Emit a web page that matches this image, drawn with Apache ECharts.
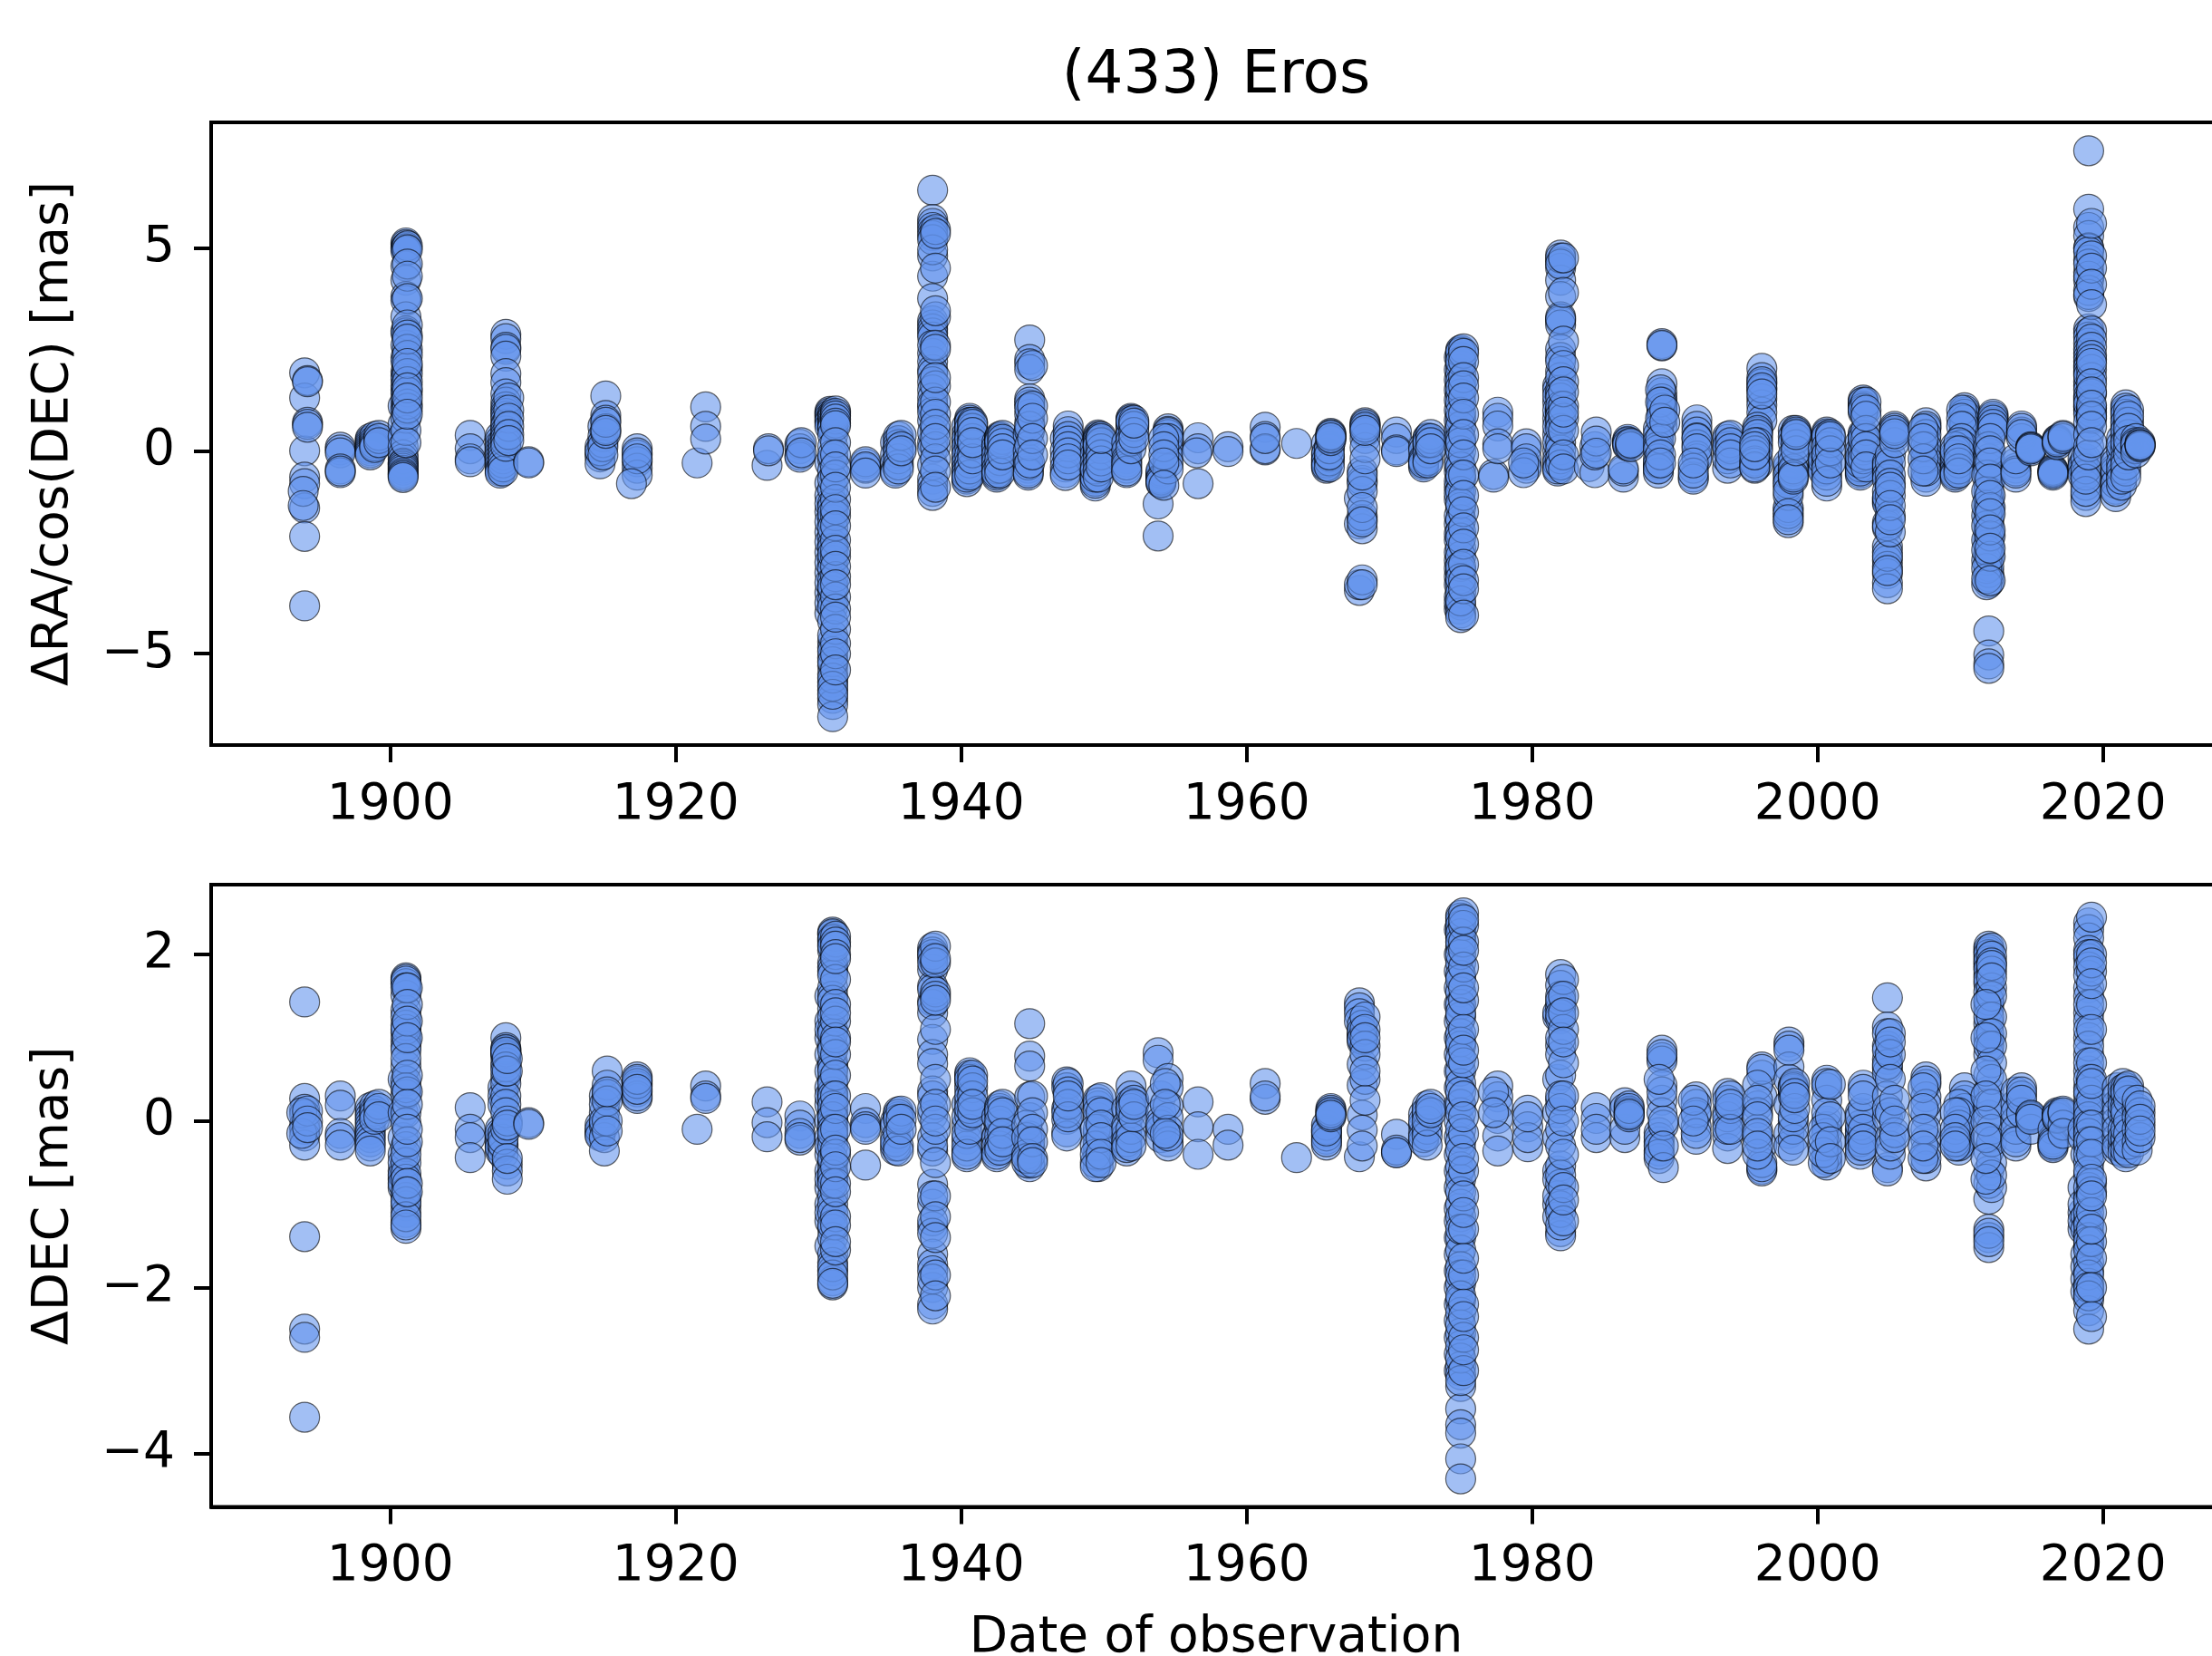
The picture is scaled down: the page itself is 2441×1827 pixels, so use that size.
<!DOCTYPE html>
<html><head><meta charset="utf-8">
<style>html,body{margin:0;padding:0;background:#fff}#c{width:2441px;height:1827px}</style>
<script src="https://cdn.jsdelivr.net/npm/echarts@6/dist/echarts.min.js"></script>
</head><body><div id="c"></div>
<script>
// Each row: observation year, then the residuals read at that year (mas).
const raColumns = [
[1894.0,1.92,1.3,0.0,-0.65,-0.81,-1.41,-2.11,-3.82],[1893.9,-1.0,-1.35],[1894.2,1.73,1.7,0.7,0.65,0.58],
[1896.5,0.09,0.02,-0.05,-0.45,-0.54,-0.5],
[1898.6,0.3,0.25,0.2,0.15,0.1,0.05,0.0,-0.05,-0.1],[1898.9,0.35,0.25,0.18,0.12,0.08],[1899.2,0.38,0.3,0.2],
[1900.9,1.1,0.65,0.35,0.1,-0.1,-0.2,-0.3,-0.33,-0.38,-0.43,-0.48,-0.54,-0.58,-0.62,-0.66],
[1901.1,5.12,5.08,5.02,4.98,4.92,4.55,4.2,3.8,3.7,3.3,2.95,2.9,2.6,2.3,2.2,1.95,1.85,1.75,1.6,1.5,1.4,1.25,1.08,1.0,0.8,0.5,0.2],
[1901.2,5.05,4.95,4.6,4.3,3.75,3.1,2.85,2.5,2.35,2.05,1.9,1.7,1.45,1.15,1.05,2.75,2.15,1.55,1.3,0.9],
[1905.6,0.38,0.05,-0.2,-0.27],
[1907.7,0.35,0.25,0.15,0.05,-0.05,-0.15,-0.25,-0.35,-0.45,-0.5,-0.55],[1907.9,0.2,0.1,0.0,-0.1,-0.2,-0.3,-0.4,-0.5],
[1908.1,2.87,2.76,2.55,2.5,2.33,1.9,1.68,1.4,1.2,1.08,1.0,0.92,0.85,0.76,0.65,0.6,0.49,0.4,0.32,0.22,0.11],[1908.3,1.3,1.0,0.8,0.6,0.4,0.25],
[1909.7,-0.27,-0.3],
[1914.7,0.1,-0.05,-0.15,-0.32,0.0],[1914.9,0.6,0.35,0.2,0.1,-0.1],[1915.1,1.35,0.87,0.75,0.54,0.43,0.7,0.5],
[1917.3,0.05,-0.1,-0.27,-0.43,-0.6,-0.05,-0.2],[1916.9,-0.81],
[1921.5,-0.3],[1922.1,1.08,0.6,0.29],
[1926.4,-0.36],[1926.5,0.05,0.0],
[1928.7,0.16,0.05,-0.11,-0.16],[1928.8,0.2,-0.05],
[1930.8,0.97,0.93,0.88,0.82,0.75,0.7,0.6,-0.3,-0.8,-1.1,-1.5,-2.0,-2.5,-3.0,-3.5,-4.0,-1.3,-1.75,-2.25,-2.75,-3.25,-3.75],
[1931.0,0.9,0.85,0.8,0.72,0.65,0.6,0.55,0.4,0.1,-0.2,-0.5,-0.95,-1.3,-1.4,-1.7,-2.1,-2.3,-2.4,-2.7,-2.9,-3.2,-3.45,-3.7,-3.85,-4.7,-4.85,-5.1,-5.3,-5.5,-5.7,-5.9,-6.1,-6.25,-6.55,-0.1,-0.7,-1.55,-1.9,-2.55,-3.35,-4.2,-4.55,-4.95,-5.2,-5.6,-5.8,-6.0],
[1931.2,0.98,0.92,0.86,0.78,0.68,0.62,0.2,-0.1,-0.6,-1.2,-1.6,-2.2,-2.6,-3.1,-3.6,-3.9,-4.4,-4.75,-5.0,-5.4,-0.4,-0.9,-1.45,-1.85,-2.45,-2.85,-3.3,-4.1],
[1933.3,-0.32,-0.43,-0.27,-0.4,-0.55],
[1935.4,0.2,-0.1,-0.3,-0.5,-0.55],[1935.6,0.35,0.25,0.15,0.05,-0.05,-0.2,-0.35,-0.45],[1935.8,0.38,0.1,0.0],
[1938.0,6.42,5.7,5.6,5.5,5.4,5.3,4.8,4.3,3.75,3.2,3.1,3.0,2.9,2.8,2.4,2.2,2.0,1.9,1.7,1.5,1.3,1.08,0.75,0.2,-0.7,-0.85,-1.0,-1.1,5.2,4.95,2.6,1.15,0.95,0.45,0.05,-0.35],
[1938.2,5.45,5.35,4.5,3.3,2.6,1.6,1.2,0.9,0.5,0.1,-0.2,-0.5,-0.9,3.45,2.5,1.8,0.65,0.3],
[1940.4,0.6,0.4,0.2,0.0,-0.2,-0.35,-0.5,-0.6,-0.7,-0.76,0.3,0.1,-0.1,-0.3,-0.45,-0.55,-0.65],[1940.6,0.8,0.75,0.69,0.6,0.5,0.4,0.24,0.1,-0.1,-0.3,-0.45,-0.6,0.7,0.55,0.3],[1940.8,0.7,0.55,0.3,0.15,-0.05,-0.2,0.65,0.45,0.2],
[1942.5,0.2,0.0,-0.2,-0.35,-0.5,-0.65,-0.6,0.1,-0.1,-0.28,-0.45,-0.55],[1942.7,0.35,0.3,0.25,0.2,0.13,-0.05,-0.24,-0.43,-0.55,0.32,0.27,0.22],[1942.9,0.38,0.28,0.18,0.05,-0.1],
[1944.7,0.4,0.0,-0.2,-0.43,-0.5,-0.6,-0.35,-0.55],[1944.8,2.73,2.25,2.14,2.0,1.28,1.13,0.69,0.9,0.5,0.13,-0.3,1.2,1.05,0.6],[1945.0,2.1,1.1,0.8,0.3,-0.1],
[1947.3,0.3,0.0,-0.2,-0.4,-0.54,-0.61],[1947.5,0.61,0.47,0.35,0.24,0.1,-0.05,-0.2,-0.35],
[1949.4,0.1,-0.1,-0.3,-0.5,-0.7,-0.87,-0.75,-0.8,-0.65,-0.45],[1949.6,0.39,0.35,0.28,0.22,0.15,0.09,0.0,-0.06,-0.2,-0.35,-0.5,-0.65,0.3,0.25,0.18,0.12],[1949.8,0.35,0.2,0.05,-0.1,-0.25,-0.4,0.3],
[1951.6,0.2,0.0,-0.2,-0.28,-0.43,-0.54,-0.35,-0.5],[1951.9,0.8,0.74,0.69,0.6,0.54,0.4,0.24,0.05,0.77,0.72],[1952.1,0.75,0.6,0.45,0.3,0.68],
[1953.8,-1.31,-2.1],[1954.0,-0.65,-0.6,-0.7,-0.75,-0.8,-0.55,-0.5,-0.68,-0.72,-0.78],[1954.5,0.54,0.48,0.4,0.24,0.1,0.02,-0.13,-0.3,-0.45,0.45,0.3],[1954.2,0.3,0.1,-0.1,-0.3,-0.85],
[1956.6,0.32,0.05,-0.81],[1956.5,-0.05],
[1958.7,0.1,-0.02],
[1961.3,0.58,0.35,0.02,0.05,0.3],
[1963.5,0.18],
[1965.6,0.18,-0.05,-0.2,-0.35,-0.43,-0.3,-0.1,-0.25,-0.38],[1965.8,0.1,-0.15,-0.25,-0.4,0.05,-0.1],[1965.9,0.43,0.35,0.3,0.25,0.4,0.38,0.32],
[1967.9,-1.17,-1.8,-3.44,-3.3],[1968.1,-0.5,-0.73,-0.8,-1.0,-1.69,-1.92,-1.6,-1.4,-3.18,-3.3,-0.6,-1.75],[1968.3,0.69,0.62,0.54,0.45,0.3,0.08,-0.2,0.65,0.58,0.5],
[1970.5,0.46,0.3,0.02,-0.02],
[1972.4,0.1,0.0,-0.2,-0.35,-0.4,-0.25,-0.3],[1972.7,0.32,0.25,0.17,0.1,-0.05,-0.24,-0.3,0.3,0.2],[1972.9,0.4,0.3,0.2,0.05],
[1974.9,2.0,1.5,1.0,0.5,0.1,-0.2,-0.5,-0.9,-1.2,-1.8,-2.2,-2.7,-3.1,-3.6,-3.9,2.3,1.75,1.25,0.75,0.3,-0.35,-0.75,-1.05,-1.6,-2.05,-2.5,-2.9,-3.3,-3.75],
[1975.0,2.45,2.3,2.1,1.9,1.7,1.4,1.2,0.8,0.6,0.3,0.0,-0.4,-0.7,-1.0,-1.4,-1.7,-2.0,-2.4,-2.6,-2.95,-3.3,-3.5,-3.8,-4.0,-4.11,2.48,2.42,2.2,1.55,0.95,0.2,-0.6,-1.3,-2.15,-2.85,-3.15,-3.7],
[1975.2,2.51,2.4,2.2,1.8,1.6,1.3,0.9,0.4,-0.1,-0.6,-1.1,-1.5,-1.9,-2.3,-2.8,-3.2,-3.4,-4.05],
[1977.3,-0.58,-0.65],[1977.6,0.95,0.8,0.61,0.17,0.05],
[1979.6,0.17,0.05,-0.35,-0.2,-0.43],[1979.4,-0.54,-0.3],
[1981.8,1.6,1.2,0.8,0.4,0.0,-0.2,-0.4,-0.5,1.5,1.35,1.0,0.6,0.2,-0.3,-0.45],[1982.0,4.82,4.65,4.5,4.2,3.8,3.3,3.2,3.1,2.5,2.3,1.95,1.8,1.5,1.4,1.3,1.0,0.99,0.9,0.69,0.2,0.02,-0.2,-0.35,4.75,4.6,3.25,2.2,1.1,0.85,0.75,0.55],[1982.2,4.75,3.9,2.7,2.1,1.7,1.1,0.8,0.5,-0.1,-0.45,1.45,0.95],
[1984.0,-0.39],[1984.4,-0.54,0.1,-0.1],[1984.5,0.46,0.24,-0.06],
[1986.4,-0.65,-0.5,-0.45],[1986.7,0.24,0.17,0.28,0.12,0.2,0.22,0.15],[1986.9,0.16,0.1,0.19],
[1989.1,2.64,2.58,2.6,1.65,1.43,1.28,1.13,0.99,0.9,0.6,1.2,1.05,0.8],[1988.85,0.54,0.4,0.24,0.1,0.02,-0.2,-0.35,-0.43,-0.55,-0.3,-0.45],[1989.0,1.5,1.2,0.8,0.3,-0.1,-0.3],[1989.3,1.0,0.7],
[1991.55,0.76,0.6,0.46,0.32,0.15,-0.13,-0.2,0.3,0.05],[1991.3,-0.65,-0.43,-0.7,-0.55,-0.3],
[1993.7,0.35,0.15,0.02,-0.43,-0.2,0.28,0.1],[1993.9,0.38,0.2,0.05,-0.3,-0.1],
[1996.1,2.03,1.8,1.65,1.5,1.28,1.13,0.95,0.75,1.7,1.55,1.4],[1995.8,0.58,0.46,0.3,0.1,-0.2,-0.35,0.5,0.4,0.2,0.0],[1995.6,0.2,0.0,-0.25,-0.43,-0.3,-0.4,-0.1,0.1],
[1997.95,-1.62,-1.47,-1.77,-1.4,-0.54,-0.73,-0.88,-1.1,-0.4,-0.3,-0.6,-0.8,-1.0,-1.55,-1.7],[1998.3,0.5,0.35,0.2,-0.1,-0.3,-0.5,-0.7,-0.45,-0.6,-0.65],[1998.5,0.5,0.43,0.3,0.15,0.0,0.46,0.4],
[2000.4,-0.35,-0.45,-0.5,-0.15,0.05,-0.25],[2000.65,0.46,0.39,0.28,-0.06,-0.2,-0.35,-0.87,-0.6,0.42,0.35,0.1,-0.1,-0.45,-0.75],[2000.9,0.4,0.2,0.0,-0.3,0.35],
[2003.0,0.2,0.0,-0.2,-0.35,-0.45,-0.55,-0.6,-0.25,-0.4,-0.5,-0.3,-0.15],[2003.2,1.25,1.18,1.1,0.95,0.43,0.24,0.02,-0.2,1.2,1.05,1.0,0.38,0.3],[2003.4,1.2,1.0,0.5,0.3,0.1,-0.1,-0.4,0.85],
[2004.9,-0.28,-0.5,-0.43,-1.25,-1.2,-1.3,-1.77,-1.9,-2.36,-2.5,-2.7,-2.85,-3.03,-3.25,-3.4,-0.35,-0.6,-0.7,-1.0,-1.15,-1.85,-2.6,-2.95],[2005.1,-0.1,-0.3,-0.6,-0.8,-1.1,-1.6,-2.0,-0.9,-1.35,-1.7],[2005.4,0.6,0.46,0.35,0.2,0.55,0.5,0.42],
[2007.6,0.69,0.55,0.24,-0.06,-0.35,-0.65,-0.75,0.6,0.4,0.1,-0.2,-0.5],[2007.4,0.54,0.1,-0.2,-0.5,0.3],
[2010.3,1.06,0.95,0.84,0.69,0.5,0.24,0.1,1.0,0.9,0.75,0.6],[2010.1,1.0,0.8,0.6,0.3,0.15,0.0],[2009.65,0.1,-0.2,-0.35,-0.5,-0.65,-0.3,-0.45,-0.55,-0.6,-0.1,0.0],[2009.9,0.2,0.0,-0.3,-0.45,-0.55,-0.2],
[2012.3,0.9,0.8,0.7,0.61,0.5,0.85,0.75,0.65,0.55],[2012.0,-0.05,-0.2,-0.43,-0.8,-1.17,-1.2,-1.3,-1.5,-1.77,-1.9,-2.0,-2.36,-2.5,-3.25,-3.1,-3.0,-4.44,-5.03,-5.25,-5.36,0.1,-0.3,-0.6,-1.0,-1.4,-1.65,-2.15,-2.3,-2.65,-2.85],[2011.85,-0.6,-1.0,-1.6,-2.2,-2.7,-2.9,-3.3,-1.35,-1.85,-2.45,-3.15],[2012.1,0.3,0.0,-0.3,-0.7,-1.4,-2.1,-2.6,-3.2,-1.1,-1.55,-1.95,-2.4],
[2013.9,-0.43,-0.65,-0.3,-0.5,-0.55,-0.2],[2014.3,0.61,0.46,0.3,0.55,0.4],[2014.95,0.08,0.05,0.0,0.1,0.06,0.07,0.04],
[2016.5,-0.46,-0.54,-0.5,-0.6,-0.48,-0.52,-0.56],[2016.8,0.28,0.24,0.2,0.15,0.26,0.22],[2017.2,0.38,0.3,0.35],
[2018.6,-0.2,-0.35,-0.5,-0.4,-0.6],[2018.8,-0.2,-1.1,-0.85,-1.25,-0.6,-0.45,-1.0,-0.7],[2019.0,7.39,5.95,5.5,5.3,5.0,4.98,4.7,4.4,4.2,3.8,3.0,2.9,2.8,2.65,2.5,2.4,2.3,2.2,2.1,1.9,1.7,1.6,1.5,1.3,1.2,1.1,1.08,1.0,0.9,4.9,4.6,4.3,3.95,3.85,2.05,1.95,1.85,1.35,1.25,1.15,0.7,0.4,0.1,-0.1],[2019.2,5.6,4.8,4.5,4.1,3.6,2.95,2.75,2.55,2.35,2.0,1.8,1.4,1.05,0.95,0.8,2.25,2.15,1.65,1.45,1.12,0.85,0.6,0.2],
[2020.9,-0.2,-0.43,-0.73,-0.95,-1.13,-0.6,-0.5,-0.8,-1.0,-0.3],[2021.3,0.3,0.0,-0.3,-0.6,-0.85,-0.45,-0.7,0.15],[2021.6,1.13,0.98,0.8,0.6,0.35,0.08,-0.2,-0.5,1.05,0.9,0.7,0.5,0.2,-0.35,-0.65],[2021.8,1.0,0.7,0.4,0.1,-0.1,0.85,0.55,0.25],[2022.3,0.3,0.1,0.05,0.2,0.15,-0.05],[2022.6,0.17,0.12,0.2,0.15,0.1,0.14]
];
const decColumns = [
[1894.0,1.43,0.27,0.14,0.08,-0.05,-0.1,-0.18,-0.29,-1.39,-2.5,-2.6,-3.56],[1893.8,0.1,-0.15],[1894.2,0.12,0.0,-0.08],
[1896.5,0.3,0.19,-0.15,-0.2,-0.29],
[1898.6,0.16,0.1,0.05,0.0,-0.05,-0.1,-0.15,-0.2,-0.25,-0.3,-0.36],[1898.9,0.18,0.12,0.08,0.02],[1899.2,0.2,0.15,0.05],
[1900.9,0.5,0.1,-0.2,-0.4,-0.6,-0.7,-0.8,-0.5,-0.65,-0.75],[1901.1,1.72,1.7,1.65,1.51,1.33,1.25,1.06,0.98,0.9,0.66,0.48,0.32,0.1,-0.02,-0.31,-0.5,-0.63,-0.7,-0.92,-1.02,-1.1,-1.22,-1.29,1.68,1.6,1.15,1.1,0.85,0.75,0.4,-0.4,-0.85,-0.97,-1.15,-1.25],[1901.2,1.6,1.4,1.2,1.0,0.35,-0.25,-0.75,-0.85,0.55,0.2,-0.1],
[1905.6,0.16,-0.1,-0.2,-0.44],
[1907.7,-0.1,-0.2,-0.3,-0.36,-0.25,-0.15,-0.32],[1907.9,0.4,0.3,0.2,-0.15,-0.3,-0.4,-0.28,-0.22],[1908.1,1.0,0.88,0.85,0.82,0.8,0.78,0.53,0.7,0.45,0.3,0.2,0.1,-0.1,0.86,0.83,0.65,0.6],[1908.2,0.6,0.0,-0.05,-0.52,-0.6,-0.7,0.75,-0.45],
[1909.7,-0.02,-0.04],
[1914.7,-0.13,-0.16,-0.05,-0.1,-0.18],[1915.0,0.3,0.1,-0.05,-0.2,-0.36,0.2,0.0],[1915.2,0.6,0.43,0.32,0.24,0.0,-0.12,0.35],
[1917.3,0.53,0.48,0.42,0.35,0.27,0.3,0.45,0.5,0.38],
[1921.5,-0.1],[1922.1,0.42,0.3,0.27],
[1926.4,0.23,-0.02,-0.19],
[1928.7,0.06,-0.05,-0.15,-0.23,-0.2],
[1930.8,1.2,1.0,0.8,0.6,0.4,0.2,0.0,-0.2,-0.4,-0.6,-0.8,-1.0,-1.2,-1.5,1.5,1.1,0.3,-0.3,-0.7,-1.1],
[1931.0,2.27,2.24,2.2,2.16,2.12,2.05,1.9,1.85,1.8,1.6,1.5,1.35,1.25,1.1,0.9,0.7,0.65,0.5,0.35,0.25,0.1,0.02,-0.05,-0.2,-0.3,-0.5,-0.6,-0.7,-0.9,-1.0,-1.1,-1.3,-1.4,-1.6,-1.7,-1.8,-1.92,-1.97,2.25,2.18,2.1,1.75,1.45,1.05,0.85,0.6,0.45,0.3,0.18,0.05,-0.1,-0.15,-0.45,-0.65,-0.75,-1.25,-1.75,-1.85,-1.95],
[1931.2,2.22,2.15,2.1,2.0,1.7,1.4,1.2,1.0,0.8,0.55,0.3,0.15,-0.1,-0.4,-0.75,-1.15,-1.25,-1.55,1.95,1.3,0.95,-0.35,-0.55,-0.85,-1.45],
[1933.3,0.15,-0.02,-0.07,-0.1,-0.53],
[1935.4,0.0,-0.2,-0.35,-0.05,-0.3,-0.25],[1935.6,0.11,0.05,-0.15,-0.3,-0.36,0.08,0.02],[1935.8,0.12,0.02,-0.1],
[1938.0,2.08,2.03,1.96,1.82,1.62,1.44,1.3,0.98,0.8,0.69,0.36,0.07,-0.36,-0.76,-1.0,-1.27,-1.6,-1.72,-2.0,-2.2,-2.26,2.0,1.9,1.58,1.4,0.3,0.15,-0.2,-0.3,-0.9,-1.2,-1.35,-1.8,-1.9],[1938.2,2.1,1.9,1.55,1.5,1.1,0.5,0.2,-0.1,-0.5,-0.9,-1.15,-1.4,-1.85,-2.1,1.95,1.45,0.0],
[1940.4,0.2,-0.05,-0.22,-0.36,-0.43,-0.3,0.05,-0.15,-0.4],[1940.6,0.58,0.52,0.45,0.38,0.22,0.07,-0.1,0.55,0.5,0.3,0.15],[1940.8,0.55,0.4,0.3,0.1,0.48,0.2],
[1942.5,0.05,-0.18,-0.36,-0.43,-0.2,-0.3,-0.4],[1942.7,0.18,0.15,0.07,-0.05,-0.18,-0.3,-0.35,0.12,0.0],[1942.9,0.2,0.1,-0.15,-0.25],
[1944.8,1.17,0.78,0.66,0.29,0.04,-0.18,-0.33,-0.51,-0.55,-0.42,-0.25],[1944.6,-0.05,-0.2,-0.4,-0.5,-0.45],[1945.0,0.3,0.1,-0.1,-0.25,-0.45,-0.5],
[1947.4,0.47,0.4,0.15,0.02,-0.13,-0.18,0.1],[1947.5,0.45,0.35,0.2,0.05,0.3],
[1949.6,0.26,0.18,0.04,-0.15,-0.25,-0.36,-0.47,-0.55,0.22,0.12,-0.1,-0.3,-0.42],[1949.4,-0.1,-0.3,-0.5,-0.4,-0.55],[1949.8,0.28,0.1,-0.05,-0.2,-0.4,-0.5],
[1951.6,0.15,-0.05,-0.18,-0.28,-0.36,-0.1,-0.25,-0.32],[1951.9,0.42,0.3,0.18,0.1,-0.1,-0.2,-0.3,0.22,0.15],[1952.1,0.25,0.05,0.2],
[1953.8,0.82,0.73],[1954.0,0.3,0.1,0.0,-0.1,-0.2,-0.05],[1954.5,0.51,0.4,0.18,0.04,-0.11,-0.25,-0.3,-0.18],[1954.3,0.45,0.2,-0.15],
[1956.6,0.23,-0.07,-0.4],
[1958.7,-0.1,-0.29],
[1961.3,0.45,0.26,0.3],
[1963.5,-0.44],
[1965.6,-0.14,-0.22,-0.29,-0.1,-0.05,-0.18,-0.25,-0.12],[1965.9,0.15,0.11,0.08,0.05,0.13,0.1,0.07],
[1967.9,1.42,1.36,1.29,1.2,-0.43],[1968.1,1.05,1.02,1.0,0.95,0.68,0.43,0.07,-0.11,-0.3,1.15,1.08,0.98],[1968.3,1.25,1.1,0.9,0.8,0.5,0.25,1.0,0.6],
[1970.5,-0.16,-0.38,-0.35,-0.38],
[1972.4,0.08,-0.05,-0.15,-0.25,0.0,-0.2],[1972.65,0.18,0.07,-0.1,-0.18,-0.29,0.12,0.0],[1972.9,0.2,0.1,0.15],
[1974.9,2.0,1.6,1.2,0.8,0.4,0.0,-0.4,-0.8,-1.2,-1.6,-2.0,-2.4,-2.8,2.3,1.8,1.4,1.0,0.6,0.2,-0.2,-0.6,-1.05,-1.4,-1.8,-2.2,-2.6,-3.0],
[1975.0,2.47,2.4,2.3,2.2,2.1,1.9,1.75,1.55,1.4,1.25,1.05,0.9,0.6,0.45,0.2,0.1,-0.1,-0.25,-0.55,-0.7,-1.0,-1.15,-1.4,-1.55,-1.75,-1.95,-2.15,-2.3,-2.55,-2.7,-2.95,-3.05,-3.19,-3.46,-3.65,-3.75,-4.06,-4.3,2.44,2.35,2.25,2.15,2.0,1.7,1.3,0.95,0.75,0.35,-0.35,-0.85,-1.3,-1.85,-2.1,-2.45,-2.85,-3.12],
[1975.2,2.5,2.35,2.15,1.85,1.45,1.1,0.7,0.3,-0.15,-0.6,-0.9,-1.3,-1.85,-2.2,-2.6,-3.0,2.42,2.05,1.6,0.85,0.05,-0.45,-1.1,-1.65,-2.35,-2.75],
[1977.6,0.42,0.29,0.18,0.03,-0.18,-0.36],[1977.3,0.35,0.1],
[1979.7,0.13,-0.07,-0.31,-0.2,0.05],
[1981.8,0.5,0.1,-0.2,-0.6,-1.0,-0.7,-0.9,-1.15,1.25,1.3],[1982.0,1.76,1.63,1.4,1.35,1.23,0.91,0.8,0.55,0.25,-0.1,-0.54,-0.76,-1.02,-1.33,-1.38,1.5,1.45,1.28,1.0,0.3,0.15,-0.3,-0.65,-1.1,-1.25],[1982.2,1.7,1.5,1.1,0.7,0.3,0.0,-0.4,-0.8,-1.2,1.3,0.95,-0.95],
[1984.5,0.16,0.03,-0.2,-0.1],
[1986.5,0.22,0.15,-0.2,-0.1],[1986.8,0.18,0.12,0.07,0.1,0.05,0.15,0.08],
[1989.1,0.85,0.76,0.72,0.43,0.25,0.1,0.8,0.35],[1988.9,0.5,-0.14,-0.25,-0.36,-0.2,-0.45,-0.3,-0.4],[1989.2,-0.05,-0.56,0.0,-0.3],
[1991.5,0.29,0.2,0.07,-0.07,-0.22,0.1,-0.15],[1991.3,0.25,0.0],
[1993.7,0.33,0.11,-0.03,-0.18,-0.33,0.25,0.05,-0.1],[1993.9,0.3,0.15,-0.1,0.2],
[1996.1,0.65,0.55,0.3,-0.29,-0.58,-0.6,0.62,-0.5,-0.55],[1995.8,0.18,0.43,0.1,-0.1,-0.2,-0.4,0.25,0.05,-0.15,-0.3],
[1998.0,0.95,0.9,0.65,0.5,0.85,0.2,-0.15,-0.3],[1998.3,0.42,0.36,0.0,-0.22,0.3,-0.1,-0.35,0.38,0.4,0.05],[1998.4,0.45,0.15,0.33,0.28],
[2000.65,0.49,0.4,0.0,-0.07,-0.47,-0.53,-0.3,0.25,0.45,0.1,-0.15,-0.42],[2000.4,-0.1,-0.3,-0.5,-0.38,-0.2],[2000.9,0.44,0.05,-0.25,-0.45],
[2003.0,0.1,-0.1,-0.2,-0.3,-0.4,-0.15,-0.25,-0.35,-0.05,0.05],[2003.2,0.43,0.15,-0.1,-0.22,0.38,0.3,-0.3],[2004.9,1.48,1.13,0.9,0.74,0.64,0.58,0.04,-0.56,-0.6,0.3,0.15,1.05,0.85,0.68],[2005.1,1.05,0.8,0.5,0.1,-0.2,0.95,-0.4,-0.3],[2005.4,-0.14,-0.2,0.25,0.0],
[2007.6,0.53,0.44,0.29,0.07,-0.22,-0.36,-0.54,0.48,0.2,-0.1,-0.45],[2007.4,0.4,0.15,-0.1,-0.45,-0.3],
[2010.3,0.4,0.25,0.07,0.3,0.15],[2009.9,0.2,0.0,-0.14,-0.29,-0.35,-0.2,-0.25,-0.3,0.1,-0.05],[2009.65,0.1,-0.1,-0.25,-0.2,-0.3],
[2012.0,2.1,2.03,1.96,1.89,1.85,1.75,1.65,1.42,1.35,1.17,0.98,0.8,0.36,0.07,-0.36,-0.6,-0.94,-1.3,-1.4,-1.52,2.06,2.0,1.92,1.82,1.7,1.55,1.45,1.25,1.05,0.9,0.55,0.2,-0.2,-0.75,-1.35,-1.45],[2012.2,2.08,1.98,1.9,1.8,1.6,1.5,1.25,1.05,0.9,0.7,0.5,0.2,-0.1,-0.5,-0.8,1.87,1.72,-0.25,-0.65],[2011.8,1.0,0.6,0.3,0.0,-0.2,-0.7,1.4,-0.45],
[2013.9,0.2,0.0,-0.2,-0.3,0.35,0.1,-0.1,-0.25],[2014.3,0.4,0.3,0.1,0.35,0.25],[2014.95,0.06,0.04,0.03,0.05,-0.1,0.07,0.02],
[2016.5,-0.27,-0.3,-0.22,-0.1,-0.25,-0.32,-0.28],[2016.8,0.07,0.05,0.03,0.1,0.06,0.08,0.04],[2017.2,0.08,0.12,-0.05,0.1,-0.15],
[2018.6,-0.2,-0.1,-1.1,-0.8,-1.3,-1.0,-1.2],[2018.8,-0.4,-1.6,-1.9,-1.15,-1.3,-1.75,-2.05],[2019.0,2.38,2.3,2.2,2.05,1.95,1.6,1.5,1.3,1.2,1.0,0.8,0.6,0.4,0.3,0.2,0.1,0.0,-0.1,-0.2,-0.3,-0.5,-0.65,-0.9,-1.0,-1.2,-1.35,-1.5,-1.7,-1.8,-1.95,-2.05,-2.15,-2.28,-2.5,2.0,1.85,1.75,1.4,1.1,0.9,0.7,0.5,0.35,0.15,0.05,-0.05,-0.15,-0.25,-0.4,-0.6,-0.8,-0.95,-1.1,-1.25,-1.4,-1.45,-1.55,-1.85,-2.0,-2.1],[2019.2,2.45,2.0,1.8,1.4,1.1,0.7,0.5,0.25,-0.05,-0.25,-0.4,-0.75,-0.85,-1.1,-1.45,-1.65,-2.0,-2.35,1.9,1.65,0.45,-0.7,-0.9,-1.3],
[2021.0,0.4,0.2,0.0,-0.2,-0.35,0.3,0.1,-0.1,-0.3],[2021.4,0.45,0.3,0.1,-0.1,-0.3,0.38,0.2,-0.2,-0.38],[2021.6,0.4,0.3,0.18,0.07,-0.25,-0.43,-0.2,0.35,0.12,-0.1,-0.35],[2021.8,0.42,0.25,0.0,-0.15,-0.38,0.36,-0.28],[2022.4,0.15,0.05,-0.1,-0.25,0.25,-0.35],[2022.6,0.1,-0.05,-0.2,0.18,0.02,-0.12]
];
const xTicks = [1900,1920,1940,1960,1980,2000,2020];
const raTicks = [-5,0,5];
const decTicks = [-4,-2,0,2];
const titleText = '(433) Eros';
const xName = 'Date of observation';
const raName = 'ΔRA/cos(DEC) [mas]';
const decName = 'ΔDEC [mas]';

const toPoints = rows => rows.flatMap(r => r.slice(1).map(v => [r[0], v]));
const font = 'DejaVu Sans';
const minus = v => String(v).replace('-', '\u2212');
const xAxis = (gridIndex, name) => ({
  type:'value', gridIndex, min:1887.45, max:2028.91, name, nameLocation:'middle', nameGap:118,
  nameTextStyle:{color:'#000',fontFamily:font,fontSize:55,padding:[0,10,0,0]},
  splitLine:{show:false}, axisLine:{show:true,onZero:false,lineStyle:{color:'#000',width:4}},
  axisTick:{show:true,customValues:xTicks,length:19,lineStyle:{color:'#000',width:4}},
  axisLabel:{show:true,customValues:xTicks,margin:39,color:'#000',fontFamily:font,fontSize:55,formatter:v=>String(v)}
});
const yAxis = (gridIndex, min, max, ticks, name, gap) => ({
  type:'value', gridIndex, min, max, name, nameLocation:'middle', nameGap:gap, nameRotate:90,
  nameTextStyle:{color:'#000',fontFamily:font,fontSize:55},
  splitLine:{show:false}, axisLine:{show:true,onZero:false,lineStyle:{color:'#000',width:4}},
  axisTick:{show:true,customValues:ticks,length:19,lineStyle:{color:'#000',width:4}},
  axisLabel:{show:true,customValues:ticks,margin:40,color:'#000',fontFamily:font,fontSize:55,formatter:minus}
});
const series = (i, rows) => ({
  type:'scatter', xAxisIndex:i, yAxisIndex:i, data:toPoints(rows), symbol:'circle', symbolSize:33,
  itemStyle:{color:'#6495ED',borderColor:'#000',borderWidth:1.2,opacity:0.6},
  silent:true, animation:false, large:false, progressive:0
});
const chart = echarts.init(document.getElementById('c'), null, {renderer:'canvas',width:2441,height:1827});
chart.setOption({
  backgroundColor:'#fff', animation:false,
  title:{text:titleText,left:1337,top:47,textAlign:'center',textStyle:{color:'#000',fontFamily:font,fontSize:66,fontWeight:'normal'}},
  grid:[
    {left:233,top:135,width:2228,height:687,outerBoundsMode:'none',containLabel:false,show:true,borderColor:'#000',borderWidth:4,backgroundColor:'transparent'},
    {left:233,top:976,width:2228,height:686.4,outerBoundsMode:'none',containLabel:false,show:true,borderColor:'#000',borderWidth:4,backgroundColor:'transparent'}
  ],
  xAxis:[xAxis(0,''),xAxis(1,xName)],
  yAxis:[yAxis(0,-7.25,8.09,raTicks,raName,146),yAxis(1,-4.636,2.84,decTicks,decName,146)],
  series:[series(0,raColumns),series(1,decColumns)]
});
</script></body></html>
